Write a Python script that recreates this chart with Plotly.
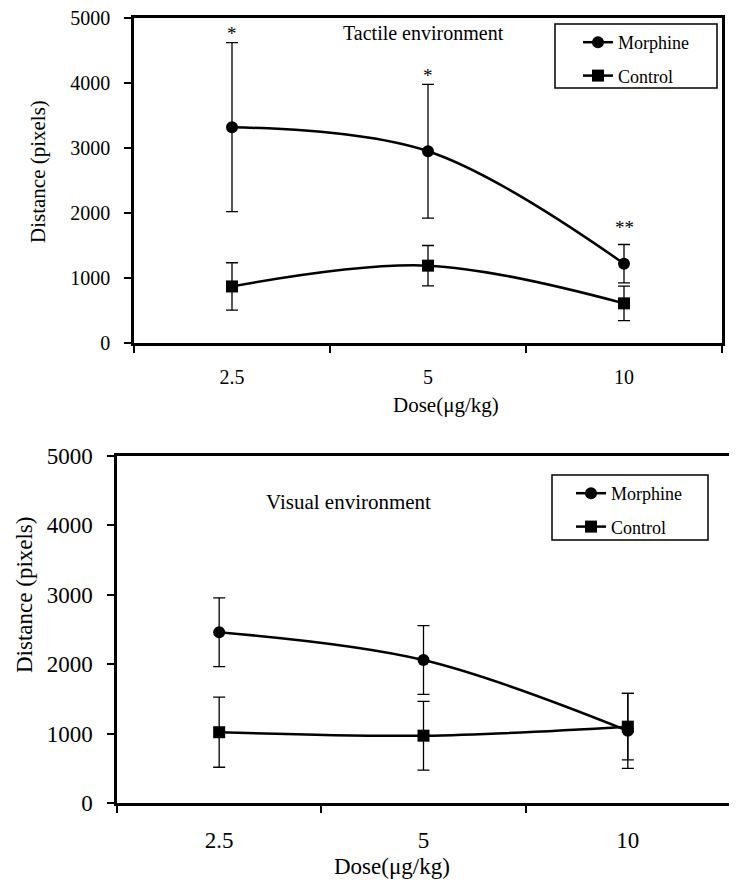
import plotly.graph_objects as go

doses = ["2.5", "5", "10"]

tactile_morphine = [3320, 2950, 1220]
tactile_morphine_err = [1300, 1030, 295]
tactile_control = [870, 1190, 610]
tactile_control_err = [365, 310, 265]

visual_morphine = [2460, 2060, 1040]
visual_morphine_err = [495, 495, 540]
visual_control = [1020, 970, 1100]
visual_control_err = [505, 495, 480]

sig_marks = ["*", "*", "**"]
sig_y = [4760, 4110, 1770]

x_title = "Dose(μg/kg)"
y_title = "Distance (pixels)"
top_title = "Tactile environment"
bottom_title = "Visual environment"

FONT = "Liberation Serif"
OFF = 8  # page body margin
W, H = 737 - OFF, 885 - OFF

def px(x):
    return (x - OFF) / W

def py(y):
    return 1 - (y - OFF) / H

fig = go.Figure()

def add_pair(m, me, c, ce, xa, ya, leg):
    fig.add_trace(go.Scatter(
        x=doses, y=m, name="Morphine", mode="lines+markers",
        line=dict(color="black", width=2.5, shape="spline", smoothing=1.0),
        marker=dict(symbol="circle", size=12, color="black"),
        error_y=dict(type="data", array=me, visible=True, color="black", thickness=1.3, width=6),
        xaxis=xa, yaxis=ya, legend=leg, legendgroup=leg + "m"))
    fig.add_trace(go.Scatter(
        x=doses, y=c, name="Control", mode="lines+markers",
        line=dict(color="black", width=2.5, shape="spline", smoothing=1.0),
        marker=dict(symbol="square", size=12, color="black"),
        error_y=dict(type="data", array=ce, visible=True, color="black", thickness=1.3, width=6),
        xaxis=xa, yaxis=ya, legend=leg, legendgroup=leg + "c"))

add_pair(tactile_morphine, tactile_morphine_err, tactile_control, tactile_control_err, "x", "y", "legend")
add_pair(visual_morphine, visual_morphine_err, visual_control, visual_control_err, "x2", "y2", "legend2")

def xaxis_style(domain, anchor, size, standoff):
    return dict(domain=domain, anchor=anchor, type="category", range=[-0.5, 2.5],
                tickson="boundaries", ticks="outside", ticklen=7, tickwidth=1.5, tickcolor="black",
                showline=True, linewidth=2.5, linecolor="black", mirror=True, showgrid=False,
                zeroline=False, automargin=False, tickfont=dict(family=FONT, size=size, color="black"),
                ticklabelstandoff=standoff, ticklabeloverflow="allow")

def yaxis_style(domain, anchor, size, standoff):
    return dict(domain=domain, anchor=anchor, range=[0, 5000], tickvals=[0, 1000, 2000, 3000, 4000, 5000],
                ticks="outside", ticklen=7, tickwidth=1.5, tickcolor="black",
                showline=True, linewidth=2.5, linecolor="black", mirror=True, showgrid=False,
                zeroline=False, automargin=False, tickfont=dict(family=FONT, size=size, color="black"),
                ticklabelstandoff=standoff, ticklabeloverflow="allow")

annotations = []
for i, (s, yy) in enumerate(zip(sig_marks, sig_y)):
    annotations.append(dict(x=i, y=yy, xref="x", yref="y", text=s, showarrow=False,
                            font=dict(family=FONT, size=19, color="black")))

def txt(x, y, text, size, angle=0):
    return dict(x=px(x), y=py(y), xref="paper", yref="paper", text=text, showarrow=False,
                textangle=angle, xanchor="center", yanchor="middle",
                font=dict(family=FONT, size=size, color="black"))

annotations += [
    txt(423, 33, top_title, 20),
    txt(446, 405, x_title, 21),
    txt(38, 172, y_title, 21, -90),
    txt(348, 502, bottom_title, 21),
    txt(392, 866, x_title, 23),
    txt(24, 595, y_title, 23, -90),
]

shapes = [
    dict(type="rect", xref="paper", yref="paper", x0=px(555), x1=px(717), y0=py(88), y1=py(24),
         line=dict(color="black", width=1.5), fillcolor="rgba(0,0,0,0)", layer="above"),
    dict(type="rect", xref="paper", yref="paper", x0=px(552), x1=px(708), y0=py(540), y1=py(475),
         line=dict(color="black", width=1.5), fillcolor="rgba(0,0,0,0)", layer="above"),
]

fig.update_layout(
    width=W, height=H, margin=dict(l=0, r=0, t=0, b=0),
    paper_bgcolor="white", plot_bgcolor="white", showlegend=True,
    xaxis=xaxis_style([px(134), px(722)], "y", 20, 14),
    yaxis=yaxis_style([py(343), py(18)], "x", 20, 10),
    xaxis2=xaxis_style([px(117), px(730)], "y2", 23, 15),
    yaxis2=yaxis_style([py(803), py(456)], "x2", 23, 10),
    legend=dict(x=px(578), y=py(24), xanchor="left", yanchor="top", bgcolor="rgba(0,0,0,0)",
                borderwidth=0, tracegroupgap=7,
                font=dict(family=FONT, size=18, color="black")),
    legend2=dict(x=px(571), y=py(475), xanchor="left", yanchor="top", bgcolor="rgba(0,0,0,0)",
                 borderwidth=0, tracegroupgap=7,
                 font=dict(family=FONT, size=18, color="black")),
    annotations=annotations,
    shapes=shapes,
)

fig.write_html("out.html")
